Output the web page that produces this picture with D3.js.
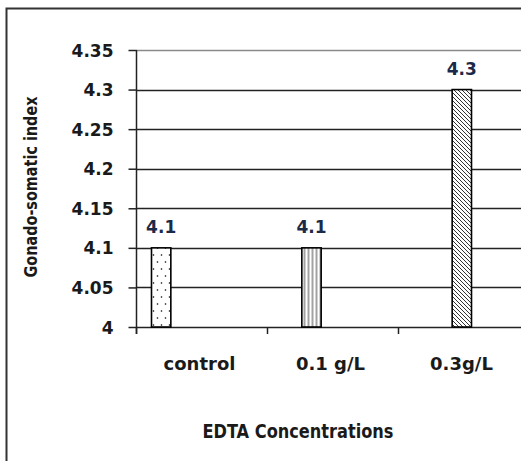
<!DOCTYPE html>
<html><head><meta charset="utf-8">
<script src="https://cdn.jsdelivr.net/npm/d3@7"></script>
<style>body{margin:0;background:#fff}svg{display:block}</style>
</head><body>
<script>
const categories = ["control", "0.1 g/L", "0.3g/L"];
const values = [4.1, 4.1, 4.3];
const labels = ["4.1", "4.1", "4.3"];
const yTicks = [4, 4.05, 4.1, 4.15, 4.2, 4.25, 4.3, 4.35];
const yTickLabels = ["4", "4.05", "4.1", "4.15", "4.2", "4.25", "4.3", "4.35"];
const patterns = ["dots", "vlines", "diag"];

const W = 521, H = 461;
const svg = d3.select("body").append("svg").attr("width", W).attr("height", H);
const defs = svg.append("defs");

// patterns
const p1 = defs.append("pattern").attr("id","dots").attr("patternUnits","userSpaceOnUse")
  .attr("width",8).attr("height",14).attr("x",0).attr("y",0);
p1.append("rect").attr("width",8).attr("height",14).attr("fill","#fff");
p1.append("circle").attr("cx",1.5).attr("cy",3).attr("r",0.8).attr("fill","#000");
p1.append("circle").attr("cx",5.5).attr("cy",10).attr("r",0.8).attr("fill","#000");

const p2 = defs.append("pattern").attr("id","vlines").attr("patternUnits","userSpaceOnUse")
  .attr("width",4).attr("height",4).attr("x",302.5);
p2.append("rect").attr("width",4).attr("height",4).attr("fill","#fff");
p2.append("line").attr("x1",2).attr("x2",2).attr("y1",0).attr("y2",4).attr("stroke","#444").attr("stroke-width",1);

const p3 = defs.append("pattern").attr("id","diag").attr("patternUnits","userSpaceOnUse")
  .attr("width",4).attr("height",4);
p3.append("rect").attr("width",4).attr("height",4).attr("fill","#fff");
p3.append("path").attr("d","M-1,-1L5,5M-1,3L1,5M3,-1L5,1").attr("stroke","#333").attr("stroke-width",1);

// frame
svg.append("path").attr("d","M6.5,470V8.5H540").attr("fill","none").attr("stroke","#333").attr("stroke-width",2);

const x0 = 136, bandW = 131;
const x = d3.scaleBand().domain(categories).range([x0, x0 + 3*bandW]).padding(0);
const xs = d3.scaleBand().domain(d3.range(categories.length)).range([15.5, 15.5 + 58]).padding(0);
const y = d3.scaleLinear().domain([4, 4.35]).range([327, 50]);

// gridlines
svg.append("g").selectAll("line").data(yTicks).join("line")
  .attr("x1", x0).attr("x2", W + 10)
  .attr("y1", d => Math.round(y(d)) + 0.5).attr("y2", d => Math.round(y(d)) + 0.5)
  .attr("stroke", d => d === 4.35 ? "#8a8a8a" : "#222")
  .attr("stroke-width", 1.6);

// y axis
const yAxis = d3.axisLeft(y).tickValues(yTicks).tickSize(8)
  .tickFormat((d,i) => yTickLabels[i]).tickPadding(15);
const gy = svg.append("g").attr("transform", `translate(${x0 + 0.5},0)`).call(yAxis);
gy.select(".domain").remove();
gy.append("line").attr("x1",0).attr("x2",0).attr("y1",y(4.35)).attr("y2",334).attr("stroke","#222").attr("stroke-width",1.5);
gy.selectAll(".tick line").attr("stroke","#222").attr("stroke-width",1.5);
gy.selectAll(".tick text").attr("fill","#1a1a1a")
  .style("font-family","DejaVu Sans, Verdana, sans-serif").style("font-weight","bold").style("font-size","17px")
  .attr("dy","0.36em");

// x axis
const gx = svg.append("g").attr("transform", `translate(0,${y(4)})`);
gx.selectAll("line.ct").data([x0, x0 + bandW, x0 + 2*bandW]).join("line")
  .attr("x1", d => d + 0.5).attr("x2", d => d + 0.5).attr("y1", 0).attr("y2", 7)
  .attr("stroke","#222").attr("stroke-width",1.5);
gx.selectAll("text").data(categories).join("text")
  .attr("x", d => x(d) + x.bandwidth()/2 - 2).attr("y", 43)
  .attr("text-anchor","middle").attr("fill","#1a1a1a")
  .style("font-family","DejaVu Sans, Verdana, sans-serif").style("font-weight","bold").style("font-size","18px")
  .text(d => d);

// bars
svg.append("g").selectAll("rect").data(values).join("rect")
  .attr("x", (d,i) => x(categories[i]) + xs(i))
  .attr("width", xs.bandwidth())
  .attr("y", d => y(d))
  .attr("height", d => y(4) - y(d))
  .attr("fill", (d,i) => `url(#${patterns[i]})`)
  .attr("stroke","#000").attr("stroke-width",1.6);

// data labels
svg.append("g").selectAll("text").data(values).join("text")
  .attr("x", (d,i) => x(categories[i]) + xs(i) + xs.bandwidth()/2)
  .attr("y", d => y(d) - 15)
  .attr("text-anchor","middle").attr("fill","#1c2a4a")
  .style("font-family","DejaVu Sans, Verdana, sans-serif").style("font-weight","bold").style("font-size","17px")
  .text((d,i) => labels[i]);

// axis titles
svg.append("text").attr("x", 298).attr("y", 438).attr("text-anchor","middle").attr("fill","#1a1a1a")
  .style("font-family","'DejaVu Sans Condensed', 'Liberation Sans Narrow', sans-serif").style("font-stretch","condensed")
  .style("font-weight","bold").style("font-size","19px")
  .attr("textLength",191).attr("lengthAdjust","spacingAndGlyphs")
  .text("EDTA Concentrations");
svg.append("text").attr("transform","translate(37,187) rotate(-90)").attr("text-anchor","middle").attr("fill","#1a1a1a")
  .style("font-family","'DejaVu Sans Condensed', 'Liberation Sans Narrow', sans-serif").style("font-stretch","condensed")
  .style("font-weight","bold").style("font-size","18px")
  .attr("textLength",181).attr("lengthAdjust","spacingAndGlyphs")
  .text("Gonado-somatic index");
</script>
</body></html>
